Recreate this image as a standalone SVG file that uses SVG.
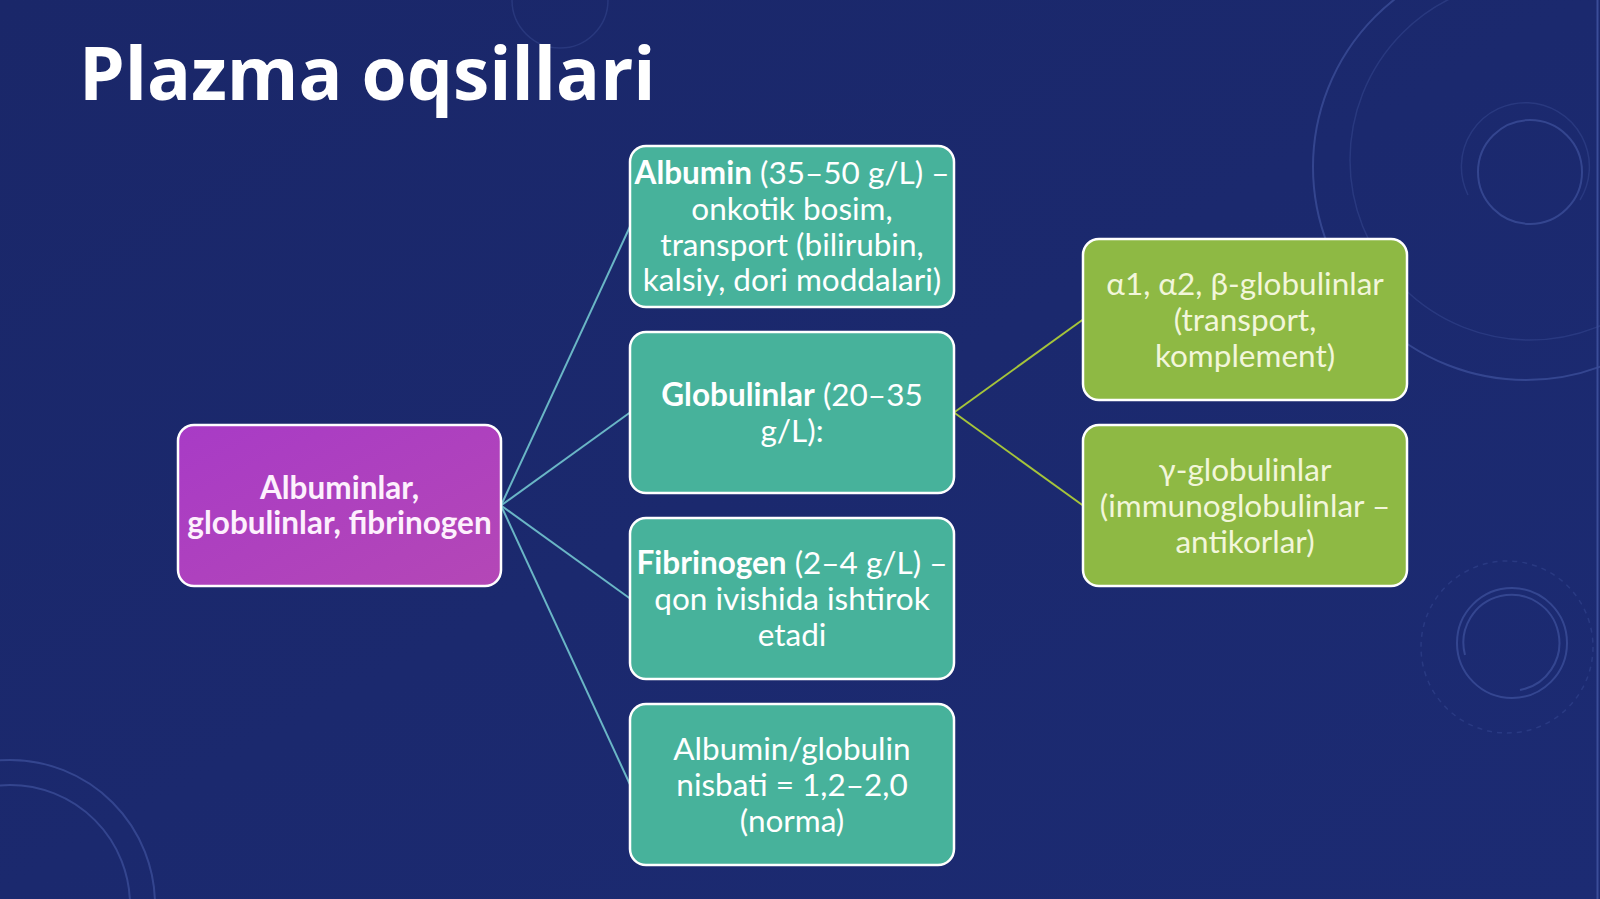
<svg xmlns="http://www.w3.org/2000/svg" width="1600" height="899" viewBox="0 0 1600 899">
<defs>
<linearGradient id="purp" x1="0" y1="0" x2="1" y2="1">
<stop offset="0" stop-color="#a83bc6"/>
<stop offset="1" stop-color="#b447b6"/>
</linearGradient>
<linearGradient id="bg" x1="0" y1="0" x2="1" y2="1">
<stop offset="0" stop-color="#1a2769"/>
<stop offset="1" stop-color="#1c2b73"/>
</linearGradient>
<style>
.deco{fill:none;stroke:#5a70c0;stroke-opacity:0.4;stroke-width:2}
.decof{fill:none;stroke:#5a70c0;stroke-opacity:0.22;stroke-width:1.5}
.box{stroke:#ffffff;stroke-width:2.5}
.teal{fill:#47b29b}
.green{fill:#8eb944}
.purple{fill:url(#purp)}
.t{font-family:Lato,"Liberation Sans",sans-serif;font-size:31.5px;text-anchor:middle;fill:#ffffff}
.tg{fill:#f2f6da}
.tp{fill:#fdf0fd}
.b{font-weight:bold}
.c1{stroke:#6ab6c6;stroke-width:2;fill:none}
.c2{stroke:#a5c43a;stroke-width:2;fill:none}
</style>
</defs>
<rect x="0" y="0" width="1600" height="899" fill="url(#bg)"/>
<g id="decorations">
<circle class="deco" cx="1526" cy="167" r="213"/>
<circle class="decof" cx="1530" cy="160" r="180"/>
<circle class="deco" cx="1530" cy="172" r="52"/>
<path class="decof" d="M1468 195 A64 64 0 1 1 1580 200"/>
<circle class="deco" cx="1512" cy="643" r="55"/>
<path class="deco" d="M1465 655 A48 48 0 1 1 1520 690"/>
<circle class="decof" cx="1507" cy="647" r="86" stroke-dasharray="5 5"/>
<circle class="deco" cx="10" cy="905" r="145"/>
<circle class="deco" cx="10" cy="905" r="120"/>
<circle class="decof" cx="560" cy="0" r="48"/>
<line x1="1597.5" y1="0" x2="1597.5" y2="899" stroke="#3a4c98" stroke-width="2"/>
</g>
<text x="79" y="100" font-family="'Open Sans','Liberation Sans',sans-serif" font-weight="bold" font-size="73" fill="#ffffff">Plazma oqsillari</text>
<g id="connectors">
<line class="c1" x1="501" y1="505.5" x2="630" y2="226.5"/>
<line class="c1" x1="501" y1="505.5" x2="630" y2="412.5"/>
<line class="c1" x1="501" y1="505.5" x2="630" y2="598.5"/>
<line class="c1" x1="501" y1="505.5" x2="630" y2="784.5"/>
<line class="c2" x1="954" y1="412.5" x2="1083" y2="319.5"/>
<line class="c2" x1="954" y1="412.5" x2="1083" y2="505.5"/>
</g>
<g id="root">
<rect class="box purple" x="178" y="425" width="323" height="161" rx="16"/>
<text class="t tp b" x="339.5" y="498.5">Albuminlar,</text>
<text class="t tp b" x="339.5" y="534.3">globulinlar, fibrinogen</text>
</g>
<g id="albumin">
<rect class="box teal" x="630" y="146" width="324" height="161" rx="16"/>
<text class="t" x="792" y="184"><tspan class="b">Albumin</tspan> (35–50 g/L) –</text>
<text class="t" x="792" y="219.8">onkotik bosim,</text>
<text class="t" x="792" y="255.6">transport (bilirubin,</text>
<text class="t" x="792" y="291.4">kalsiy, dori moddalari)</text>
</g>
<g id="globulinlar">
<rect class="box teal" x="630" y="332" width="324" height="161" rx="16"/>
<text class="t" x="792" y="405.8"><tspan class="b">Globulinlar</tspan> (20–35</text>
<text class="t" x="792" y="441.6">g/L):</text>
</g>
<g id="fibrinogen">
<rect class="box teal" x="630" y="518" width="324" height="161" rx="16"/>
<text class="t" x="792" y="573.9"><tspan class="b">Fibrinogen</tspan> (2–4 g/L) –</text>
<text class="t" x="792" y="609.7">qon ivishida ishtirok</text>
<text class="t" x="792" y="645.5">etadi</text>
</g>
<g id="nisbat">
<rect class="box teal" x="630" y="704" width="324" height="161" rx="16"/>
<text class="t" x="792" y="759.9">Albumin/globulin</text>
<text class="t" x="792" y="795.7">nisbati = 1,2–2,0</text>
<text class="t" x="792" y="831.5">(norma)</text>
</g>
<g id="alfabeta">
<rect class="box green" x="1083" y="239" width="324" height="161" rx="16"/>
<text class="t tg" x="1245" y="294.9">α1, α2, β-globulinlar</text>
<text class="t tg" x="1245" y="330.7">(transport,</text>
<text class="t tg" x="1245" y="366.5">komplement)</text>
</g>
<g id="gamma">
<rect class="box green" x="1083" y="425" width="324" height="161" rx="16"/>
<text class="t tg" x="1245" y="480.9">γ-globulinlar</text>
<text class="t tg" x="1245" y="516.7">(immunoglobulinlar –</text>
<text class="t tg" x="1245" y="552.5">antikorlar)</text>
</g>
</svg>
